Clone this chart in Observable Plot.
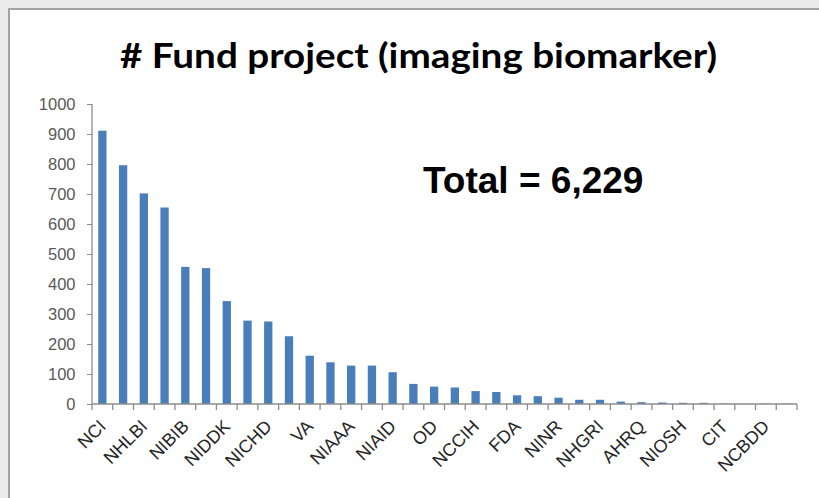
<!DOCTYPE html>
<html>
<head>
<meta charset="utf-8">
<script src="https://cdn.jsdelivr.net/npm/d3@7"></script>
<script src="https://cdn.jsdelivr.net/npm/@observablehq/plot@0.6"></script>
<style>
  html, body { margin: 0; padding: 0; }
  body { width: 819px; height: 498px; overflow: hidden; background: #ececec; position: relative; }
  #frame { position: absolute; left: 8px; top: 8px; width: 840px; height: 520px; background: #fff; border: 2px solid #a3a3a3; }
  #chart { position: absolute; left: 0; top: 0; }
  #title { position: absolute; left: 0; top: 0; white-space: nowrap; font-family: Lato, "Open Sans", sans-serif; font-weight: bold; font-size: 35px; line-height: 1; color: #000; transform-origin: 0 0; }
  #total { position: absolute; left: 423px; top: 162px; white-space: nowrap; font-family: "Liberation Sans", Arial, sans-serif; font-weight: bold; font-size: 37px; line-height: 1; color: #000; }
</style>
</head>
<body>
<div id="frame"></div>
<div id="chart"></div>
<div id="title"># Fund project (imaging biomarker)</div>
<div id="total">Total = 6,229</div>
<script>
// Funding agencies (every other one is labelled on the axis)
const agencies = ["NCI","NIA","NHLBI","NINDS","NIBIB","NIMH","NIDDK","NIAMS","NICHD","NIDA",
  "VA","NEI","NIAAA","NIGMS","NIAID","NIEHS","OD","NCATS","NCCIH","NIDCD",
  "FDA","NIDCR","NINR","NIMHD","NHGRI","NLM","AHRQ","CDC","NIOSH","FIC",
  "CIT","CLC","NCBDD","NCEH"];
// Number of funded projects per agency
const projects = [911,796,702,655,457,453,343,278,275,226,
  161,139,128,128,106,67,58,55,43,40,
  29,26,21,14,14,8,6,5,4,4,
  1,1,1,1];
// Tick labels shown on the category axis
const shownLabels = ["NCI","NHLBI","NIBIB","NIDDK","NICHD","VA","NIAAA","NIAID","OD","NCCIH",
  "FDA","NINR","NHGRI","AHRQ","NIOSH","CIT","NCBDD"];
const yTicks = [0,100,200,300,400,500,600,700,800,900,1000];

const data = agencies.map((a, i) => ({agency: a, value: projects[i]}));

const axisColor = "#8c8c8c";

// category-boundary tick marks and axis lines, Excel style
function excelAxes(index, scales, values, dims) {
  const {width, marginLeft, marginRight} = dims;
  const y0 = scales.y(0);
  const step = (width - marginLeft - marginRight) / agencies.length;
  const g = d3.create("svg:g").attr("stroke", axisColor).attr("stroke-width", 1.3).attr("fill", "none");
  for (let k = 0; k <= agencies.length; k++) {
    const xx = marginLeft + k * step;
    g.append("line").attr("x1", xx).attr("x2", xx).attr("y1", y0).attr("y2", y0 + 6);
  }
  g.append("line").attr("x1", marginLeft).attr("x2", width - marginRight).attr("y1", y0).attr("y2", y0);
  g.append("line").attr("x1", marginLeft).attr("x2", marginLeft).attr("y1", scales.y(1000)).attr("y2", y0);
  return g.node();
}

const plot = Plot.plot({
  width: 819,
  height: 498,
  marginLeft: 92,
  marginRight: 22,
  marginTop: 104,
  marginBottom: 94,
  style: {background: "transparent", fontFamily: "'Liberation Sans', Arial, sans-serif", overflow: "visible"},
  x: {domain: agencies, paddingInner: 0.6, paddingOuter: 0.3, align: 0.5, round: false, label: null},
  y: {domain: [0, 1000], label: null},
  marks: [
    Plot.barY(data, {x: "agency", y: "value", fill: "#4a7ebb"}),
    Plot.axisY({ticks: yTicks, tickSize: 5, tickPadding: 12, stroke: axisColor, fill: "#595959", fontSize: 16.5, label: null, tickFormat: d => String(d)}),
    Plot.axisX({tickSize: 0, tickRotate: -45, tickPadding: 19, fill: "#262626", fontSize: 18, label: null,
      tickFormat: d => shownLabels.includes(d) ? d : ""}),
    excelAxes
  ]
});
document.getElementById("chart").appendChild(plot);

// Fit the title to the reference's extent
const title = document.getElementById("title");
const w = title.getBoundingClientRect().width;
const targetLeft = 120, targetWidth = 597;
title.style.left = targetLeft + "px";
title.style.top = "37px";
title.style.transform = `scaleX(${targetWidth / w})`;
</script>
</body>
</html>
